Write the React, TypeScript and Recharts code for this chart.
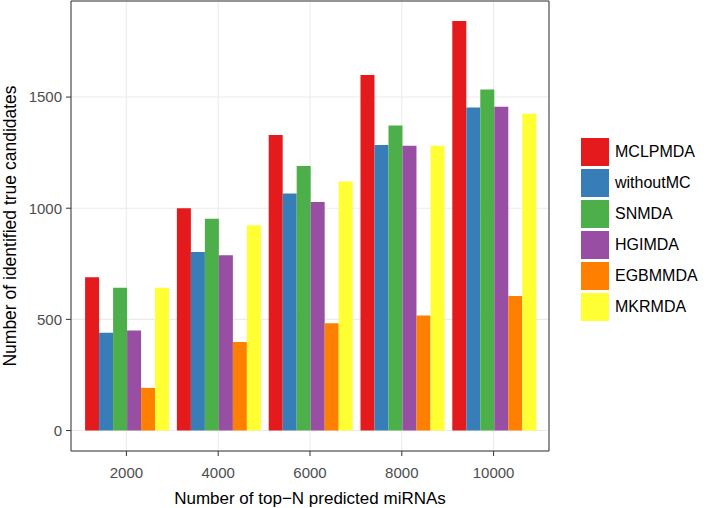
import React from 'react';
import { BarChart, Bar, XAxis, YAxis, CartesianGrid } from 'recharts';

const categories = ['2000', '4000', '6000', '8000', '10000'];
const MCLPMDA = [689, 1000, 1329, 1599, 1842];
const withoutMC = [440, 803, 1066, 1284, 1453];
const SNMDA = [642, 953, 1190, 1372, 1534];
const HGIMDA = [450, 789, 1028, 1281, 1456];
const EGBMMDA = [192, 398, 483, 518, 605];
const MKRMDA = [642, 923, 1120, 1281, 1425];
const yTicks = [0, 500, 1000, 1500];

const seriesNames = ['MCLPMDA', 'withoutMC', 'SNMDA', 'HGIMDA', 'EGBMMDA', 'MKRMDA'];
const seriesValues = [MCLPMDA, withoutMC, SNMDA, HGIMDA, EGBMMDA, MKRMDA];
const seriesColors = ['#E41A1C', '#377EB8', '#4DAF4A', '#984EA3', '#FF7F00', '#FFFF33'];

const data = categories.map((c, i) => {
  const row: Record<string, string | number> = { cat: c };
  seriesNames.forEach((n, s) => {
    row[n] = seriesValues[s][i];
  });
  return row;
});

const FONT = '"Liberation Sans", Arial, Helvetica, sans-serif';

export default function App() {
  return (
    <div style={{ position: 'absolute', left: 0, top: 0, width: 709, height: 508, background: '#fff', fontFamily: FONT }}>
      <BarChart
        width={709}
        height={508}
        data={data}
        margin={{ top: 0, right: 159, bottom: 0, left: 0 }}
        barCategoryGap="5%"
        barGap={0}
      >
        <CartesianGrid stroke="#EBEBEB" strokeWidth={1.1} />
        <XAxis
          dataKey="cat"
          height={57}
          padding={{ left: 9.5, right: 9.5 }}
          tickSize={5}
          tickMargin={11}
          tickLine={{ stroke: '#333333' }}
          axisLine={{ stroke: '#333333' }}
          tick={{ fill: '#4D4D4D', fontSize: 15, fontFamily: FONT }}
          label={{ value: 'Number of top\u2212N predicted miRNAs', position: 'insideBottom', offset: 4, style: { fill: '#000', fontSize: 17, fontFamily: FONT } }}
        />
        <XAxis xAxisId="top" dataKey="cat" orientation="top" height={1} tick={false} tickLine={false} axisLine={{ stroke: '#333333' }} />
        <YAxis
          width={71}
          type="number"
          domain={[-92, 1932]}
          allowDataOverflow
          ticks={yTicks}
          tickSize={5}
          tickMargin={4}
          tickLine={{ stroke: '#333333' }}
          axisLine={{ stroke: '#333333' }}
          tick={{ fill: '#4D4D4D', fontSize: 15, fontFamily: FONT }}
          label={{ value: 'Number of identified true candidates', angle: -90, position: 'insideLeft', offset: 9.5, style: { textAnchor: 'middle', fill: '#000', fontSize: 17.5, fontFamily: FONT } }}
        />
        <YAxis yAxisId="right" orientation="right" width={1} domain={[0, 1]} tick={false} tickLine={false} axisLine={{ stroke: '#333333' }} />
        {seriesNames.map((n, s) => (
          <Bar key={n} dataKey={n} fill={seriesColors[s]} isAnimationActive={false} />
        ))}
      </BarChart>
      <div style={{ position: 'absolute', left: 581, top: 138 }}>
        {seriesNames.map((n, s) => (
          <div key={n} style={{ display: 'flex', alignItems: 'center', height: 28, marginBottom: 3.1 }}>
            <div style={{ width: 28, height: 28, background: seriesColors[s] }} />
            <span style={{ marginLeft: 6, fontSize: 16, color: '#000', fontFamily: FONT }}>{n}</span>
          </div>
        ))}
      </div>
    </div>
  );
}
